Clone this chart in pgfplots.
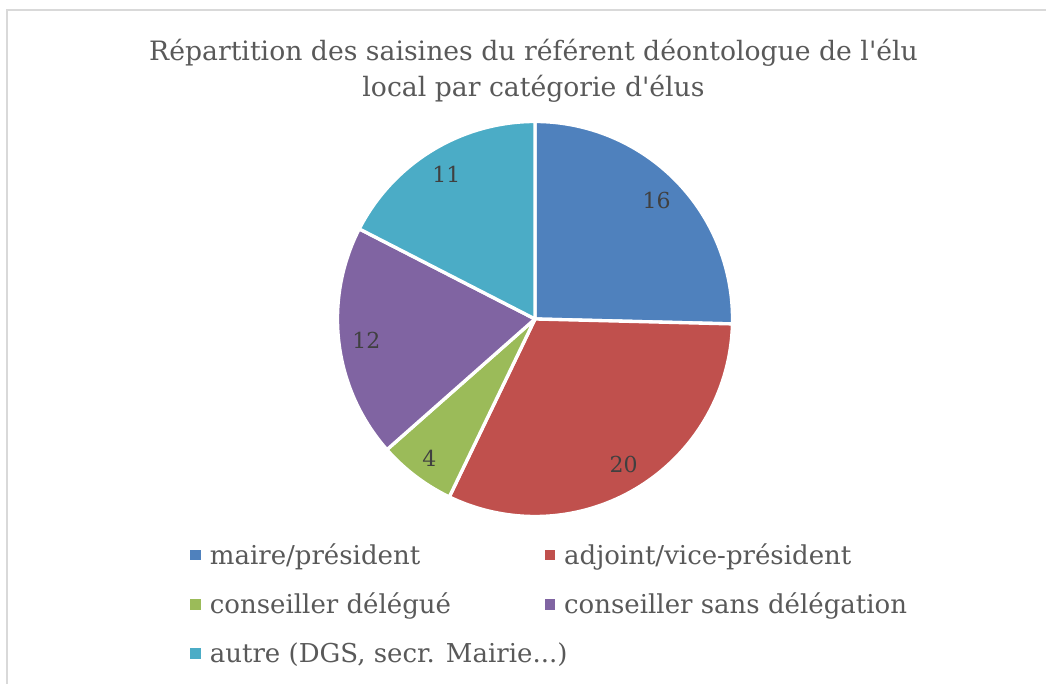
\documentclass[border=0pt]{standalone}
\usepackage{pgfplots}
\pgfplotsset{compat=1.18}
\usepackage{fontspec}
\setmainfont{DejaVu Serif}
\definecolor{cA}{HTML}{4F81BD}
\definecolor{cB}{HTML}{C0504D}
\definecolor{cC}{HTML}{9BBB59}
\definecolor{cD}{HTML}{8064A2}
\definecolor{cE}{HTML}{4BACC6}
\definecolor{txt}{HTML}{595959}
\definecolor{lbl}{HTML}{404040}
\definecolor{frame}{HTML}{D9D9D9}
% data
\def\vA{16}\def\vB{20}\def\vC{4}\def\vD{12}\def\vE{11}
\pgfmathsetmacro\tot{\vA+\vB+\vC+\vD+\vE}
\pgfmathsetmacro\sA{90}
\pgfmathsetmacro\sB{\sA-360*\vA/\tot}
\pgfmathsetmacro\sC{\sB-360*\vB/\tot}
\pgfmathsetmacro\sD{\sC-360*\vC/\tot}
\pgfmathsetmacro\sE{\sD-360*\vD/\tot}
\pgfmathsetmacro\sF{\sE-360*\vE/\tot}
\pgfmathsetmacro\mA{(\sA+\sB)/2}
\pgfmathsetmacro\mB{(\sB+\sC)/2}
\pgfmathsetmacro\mC{(\sC+\sD)/2}
\pgfmathsetmacro\mD{(\sD+\sE)/2}
\pgfmathsetmacro\mE{(\sE+\sF)/2}
\def\cx{535}\def\cy{365}\def\R{197.5}\def\rl{170}
\begin{document}
\begin{tikzpicture}
\begin{axis}[
  scale only axis, width=784.5pt, height=513pt,
  xmin=0, xmax=1046, ymin=0, ymax=684,
  hide axis, clip=false,
  legend columns=2,
  legend cell align=left,
  legend image code/.code={\fill[#1,draw=none] (0pt,-4.1pt) rectangle (8.2pt,4.1pt);},
  legend style={at={(axis cs:186,684-538)}, anchor=north west, draw=none, fill=none,
    font=\fontsize{19.5pt}{22pt}\selectfont, text=txt,
    /tikz/every odd column/.append style={column sep=4.5pt},
    /tikz/every even column/.append style={column sep=5pt},
    row sep=16pt},
  samples=120, variable=\t,
]
\addplot[fill=cA, draw=white, line width=2.5pt, line join=round, domain=\sB:\sA] ({\cx+\R*cos(\t)},{\cy+\R*sin(\t)}) -- (axis cs:\cx,\cy) -- cycle;
\addlegendentry{\makebox[244pt][l]{maire/président}}
\addplot[fill=cB, draw=white, line width=2.5pt, line join=round, domain=\sC:\sB] ({\cx+\R*cos(\t)},{\cy+\R*sin(\t)}) -- (axis cs:\cx,\cy) -- cycle;
\addlegendentry{adjoint/vice-président}
\addplot[fill=cC, draw=white, line width=2.5pt, line join=round, domain=\sD:\sC] ({\cx+\R*cos(\t)},{\cy+\R*sin(\t)}) -- (axis cs:\cx,\cy) -- cycle;
\addlegendentry{\makebox[244pt][l]{conseiller délégué}}
\addplot[fill=cD, draw=white, line width=2.5pt, line join=round, domain=\sE:\sD] ({\cx+\R*cos(\t)},{\cy+\R*sin(\t)}) -- (axis cs:\cx,\cy) -- cycle;
\addlegendentry{conseiller sans délégation}
\addplot[fill=cE, draw=white, line width=2.5pt, line join=round, domain=\sF:\sE] ({\cx+\R*cos(\t)},{\cy+\R*sin(\t)}) -- (axis cs:\cx,\cy) -- cycle;
\addlegendentry{\makebox[244pt][l]{autre (DGS, secr. Mairie...)}}
% data labels
\begin{scope}[every node/.style={text=lbl, font=\fontsize{16.5pt}{18pt}\selectfont}]
\node at (axis cs:{\cx+\rl*cos(\mA)},{\cy+\rl*sin(\mA)}) {\vA};
\node at (axis cs:{\cx+\rl*cos(\mB)},{\cy+\rl*sin(\mB)}) {\vB};
\node at (axis cs:{\cx+175*cos(\mC)},{\cy+175*sin(\mC)}) {\vC};
\node at (axis cs:{\cx+\rl*cos(\mD)},{\cy+\rl*sin(\mD)}) {\vD};
\node at (axis cs:{\cx+\rl*cos(\mE)},{\cy+\rl*sin(\mE)}) {\vE};
\end{scope}
% title
\node[anchor=base, text=txt, font=\fontsize{20pt}{23pt}\selectfont] at (axis cs:533.5,684-61) {Répartition des saisines du référent déontologue de l\textquotesingle élu};
\node[anchor=base, text=txt, font=\fontsize{20pt}{23pt}\selectfont] at (axis cs:533.5,684-97) {local par catégorie d\textquotesingle élus};
% frame
\draw[frame, line width=1.2pt] (axis cs:7,-20) |- (axis cs:1070,674);
\end{axis}
\pgfresetboundingbox
\useasboundingbox (0,0) rectangle (784.5pt,513pt);
\end{tikzpicture}
\end{document}
